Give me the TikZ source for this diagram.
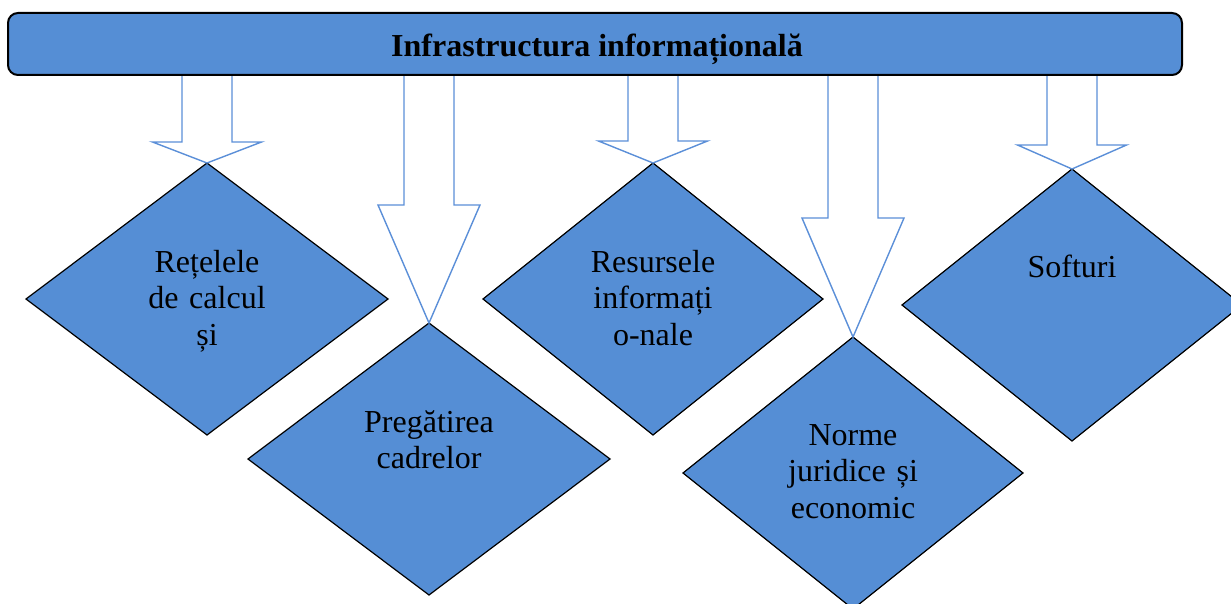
\documentclass[tikz,border=0pt]{standalone}
\usepackage{fontspec}
\setmainfont{Liberation Serif}
\usetikzlibrary{shapes.geometric,calc}
\definecolor{fillblue}{HTML}{558ED5}
\definecolor{arrowblue}{HTML}{5B8FD8}
\tikzset{
  dia/.style 2 args={diamond, draw=black, line width=1.2pt, fill=fillblue,
    inner sep=0pt, outer sep=0pt, minimum width=#1, minimum height=#2},
  dtext/.style={font=\fontsize{32}{36.8}\selectfont, align=center,
    text width=260pt, inner sep=0pt, anchor=base},
  barbox/.style={draw=black, line width=2pt, fill=fillblue, rounded corners=10pt,
    inner sep=0pt, outer sep=0pt, minimum width=1174pt, minimum height=62pt},
  titletext/.style={font=\fontsize{32}{36.8}\selectfont\bfseries, inner sep=0pt, anchor=base},
  arrowline/.style={draw=arrowblue, line width=1.4pt, line join=miter},
}
\newcommand\blkarrow[3]{%
  \fill[white] let \p1=(#1.north), \p2=(bar.south) in
    (\x1-25pt,\y2-1.2pt) -- (\x1-25pt,\y1+#2) -- (\x1-#3,\y1+#2) -- (\p1)
    -- (\x1+#3,\y1+#2) -- (\x1+25pt,\y1+#2) -- (\x1+25pt,\y2-1.2pt) -- cycle;
  \draw[arrowline] let \p1=(#1.north), \p2=(bar.south) in
    (\x1-25pt,\y2-1.2pt) -- (\x1-25pt,\y1+#2) -- (\x1-#3,\y1+#2) -- (\p1)
    -- (\x1+#3,\y1+#2) -- (\x1+25pt,\y1+#2) -- (\x1+25pt,\y2-1.2pt);
}
\begin{document}
\begin{tikzpicture}[x=1pt,y=-1pt]
\useasboundingbox (0,0) rectangle (1231,604);
\clip (0,0) rectangle (1231,604);
% bar
\node[barbox] (bar) at (595,44) {};
\node[titletext] (title) at (597,57) {Infrastructura informațională};
% diamonds
\node[dia={362pt}{272pt}] (d1) at (207,299) {};
\node[dia={362pt}{272pt}] (d2) at (429,459) {};
\node[dia={340pt}{272pt}] (d3) at (653,299) {};
\node[dia={340pt}{272pt}] (d4) at (853,473) {};
\node[dia={340pt}{272pt}] (d5) at (1072,305) {};
% block arrows
\blkarrow{d1}{21pt}{54.5pt}
\blkarrow{d2}{118pt}{51pt}
\blkarrow{d3}{22pt}{54.5pt}
\blkarrow{d4}{119pt}{51pt}
\blkarrow{d5}{24pt}{54.5pt}
% texts
\node[dtext] (t1) at (207,272) {Rețelele\\de calcul\\și};
\node[dtext] (t2) at (429,432) {Pregătirea\\cadrelor};
\node[dtext] (t3) at (653,272) {Resursele\\informați\\o-nale};
\node[dtext] (t4) at (853,445) {Norme\\juridice și\\economic};
\node[dtext] (t5) at (1072,277) {Softuri};
\end{tikzpicture}
\end{document}
